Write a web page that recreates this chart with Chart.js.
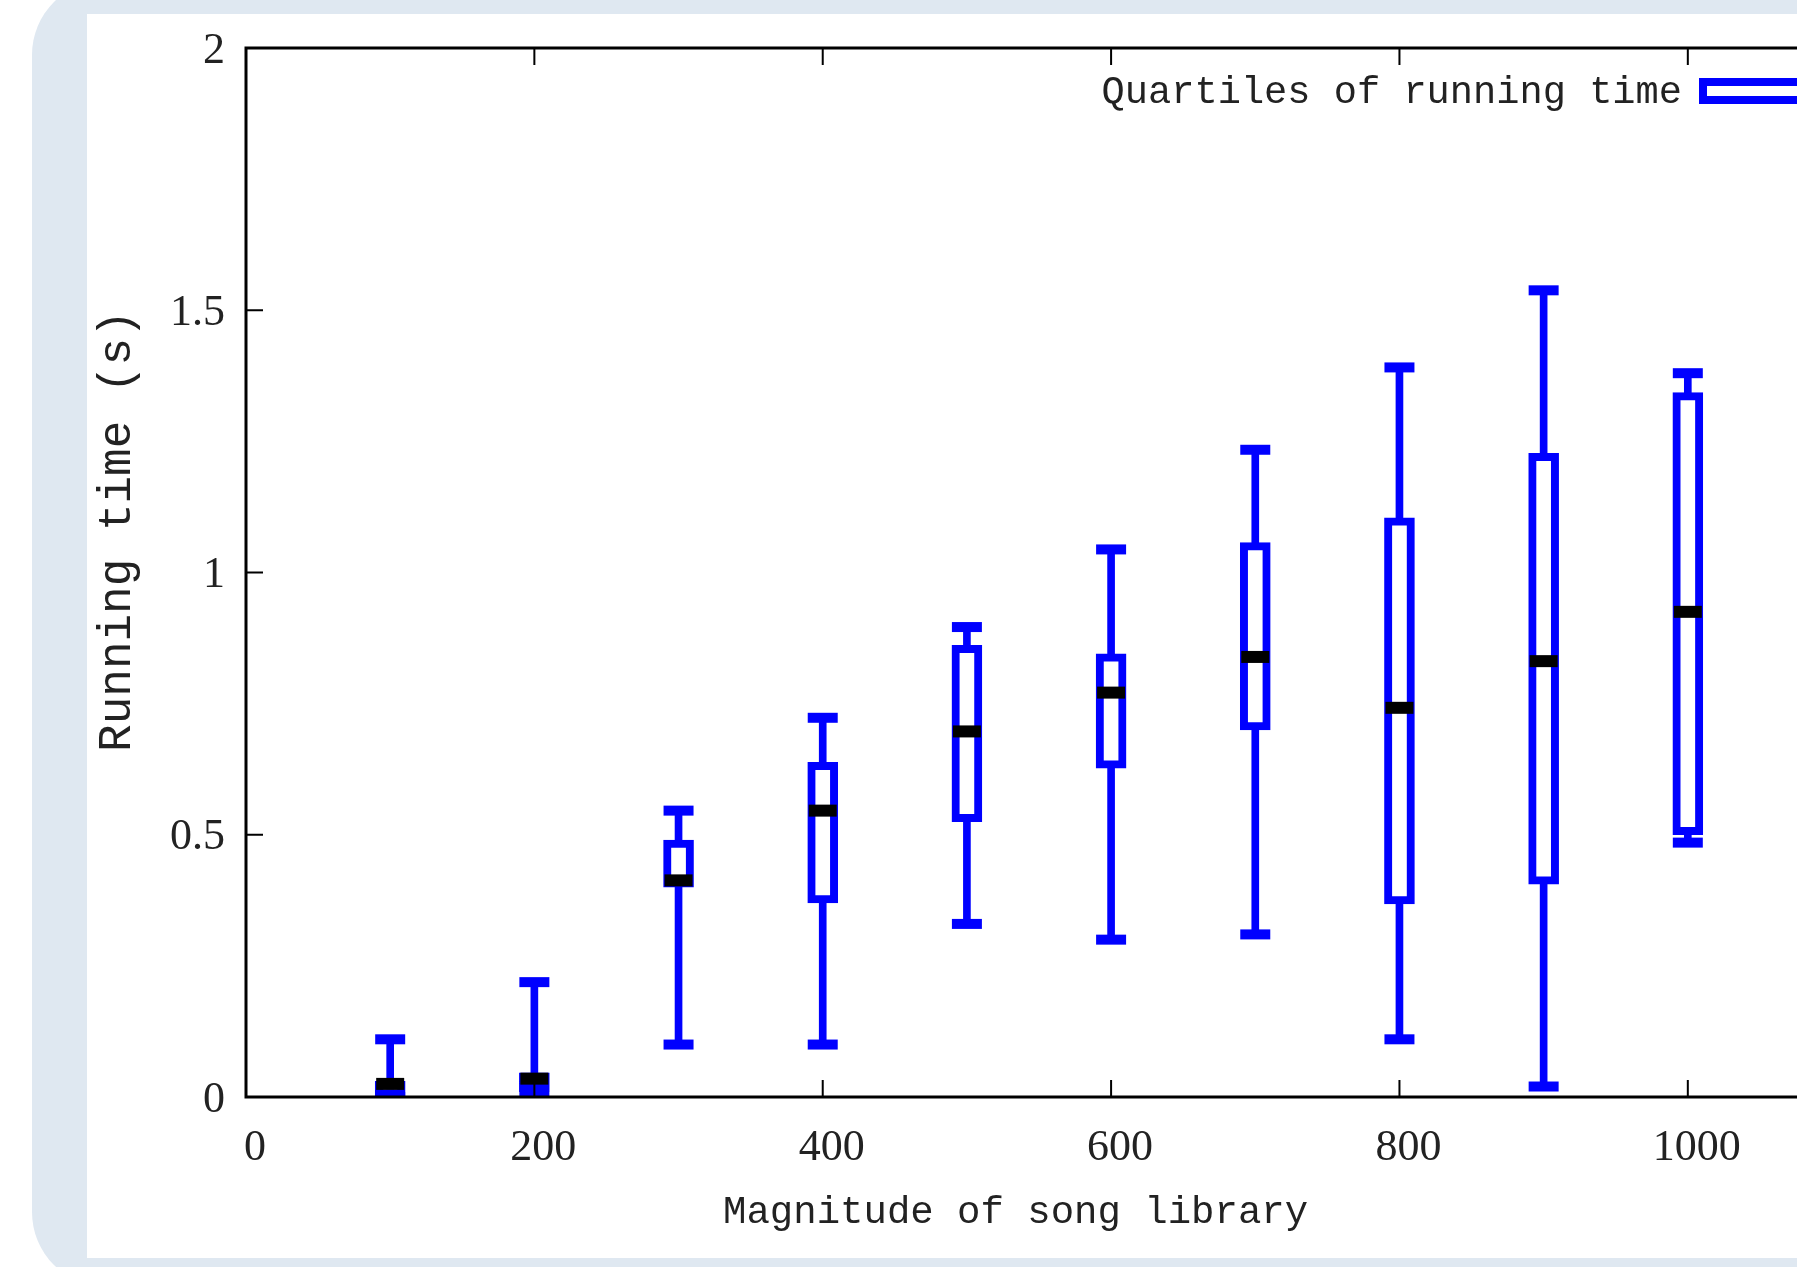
<!DOCTYPE html>
<html>
<head>
<meta charset="utf-8">
<title>Running time vs magnitude of song library</title>
<script src="https://cdn.jsdelivr.net/npm/chart.js@4.4.1/dist/chart.umd.min.js"></script>
<style>
  html, body { margin: 0; padding: 0; width: 1797px; height: 1267px; overflow: hidden; background: #fff; }
  #frame { position: absolute; left: 32px; top: -20px; width: 1900px; height: 1307px; background: #dfe8f1; border-radius: 75px; }
  #panel { position: absolute; left: 87px; top: 14px; width: 1800px; height: 1244px; background: #fff; }
  #wrap { position: absolute; left: 87px; top: 14px; width: 1771px; height: 1244px; }
</style>
</head>
<body>
<div id="frame"></div>
<div id="panel"></div>
<div id="wrap"><canvas id="boxChart"></canvas></div>
<script>
// song library sizes and running time quartiles (seconds)
const sizes   = [100, 200, 300, 400, 500, 600, 700, 800, 900, 1000];
const minTime = [0.00, 0.00, 0.10, 0.10, 0.33, 0.30, 0.31, 0.11, 0.02, 0.485];
const q1Time  = [0.00, 0.01, 0.40, 0.37, 0.525, 0.627, 0.70, 0.368, 0.406, 0.50];
const medTime = [0.025, 0.035, 0.413, 0.546, 0.697, 0.771, 0.839, 0.742, 0.831, 0.925];
const q3Time  = [0.03, 0.046, 0.49, 0.638, 0.861, 0.845, 1.057, 1.104, 1.227, 1.343];
const maxTime = [0.11, 0.219, 0.546, 0.723, 0.896, 1.044, 1.234, 1.391, 1.538, 1.38];

const xTitle = 'Magnitude of song library  ';
const yTitle = '   Running time (s)';
const seriesLabel = 'Quartiles of running time';

const blue = '#0000ff';
const textColor = '#222';
const tickFont = { family: 'Liberation Serif', size: 44 };
const noLines = 'rgba(0,0,0,0)';

// gnuplot style border with inward ticks + key in the top right corner
const gnuplotFrame = {
  id: 'gnuplotFrame',
  afterDatasetsDraw(chart) {
    const { ctx, chartArea: a, scales } = chart;
    ctx.save();
    ctx.strokeStyle = '#000';
    ctx.lineWidth = 3;
    ctx.strokeRect(a.left, a.top, a.right - a.left, a.bottom - a.top);

    ctx.lineWidth = 2;
    ctx.beginPath();
    scales.x.ticks.forEach(t => {
      const px = scales.x.getPixelForValue(t.value);
      ctx.moveTo(px, a.bottom); ctx.lineTo(px, a.bottom - 17);
      ctx.moveTo(px, a.top);    ctx.lineTo(px, a.top + 17);
    });
    scales.y.ticks.forEach(t => {
      const py = scales.y.getPixelForValue(t.value);
      ctx.moveTo(a.left, py);  ctx.lineTo(a.left + 17, py);
      ctx.moveTo(a.right, py); ctx.lineTo(a.right - 17, py);
    });
    ctx.stroke();

    // key
    const ds = chart.data.datasets.find(d => d.label === seriesLabel);
    const cy = a.top + 45;
    const boxLeft = a.right - 129;
    ctx.font = '38.7px "Liberation Mono"';
    ctx.fillStyle = textColor;
    ctx.textAlign = 'right';
    ctx.textBaseline = 'middle';
    ctx.fillText(ds.label, boxLeft - 21, cy);
    ctx.fillStyle = ds.backgroundColor;
    ctx.strokeStyle = ds.borderColor;
    ctx.lineWidth = ds.borderWidth;
    ctx.fillRect(boxLeft, cy - 11, 100, 18);
    ctx.strokeRect(boxLeft, cy - 11, 100, 18);
    ctx.restore();
  }
};

new Chart(document.getElementById('boxChart'), {
  type: 'bar',
  data: {
    datasets: [
      {
        type: 'scatter',
        label: 'Median',
        data: sizes.map((s, i) => ({ x: s, y: medTime[i] })),
        pointStyle: 'line',
        pointRadius: 14,
        pointBorderColor: '#000',
        pointBorderWidth: 12,
        borderColor: '#000',
        order: 0
      },
      {
        type: 'scatter',
        label: 'Whisker caps',
        data: sizes.map((s, i) => ({ x: s, y: minTime[i] }))
          .concat(sizes.map((s, i) => ({ x: s, y: maxTime[i] }))),
        pointStyle: 'line',
        pointRadius: 15,
        pointBorderColor: blue,
        pointBorderWidth: 10,
        borderColor: blue,
        order: 1
      },
      {
        label: seriesLabel,
        data: sizes.map((s, i) => ({ x: s, y: [q1Time[i], q3Time[i]] })),
        backgroundColor: '#fff',
        borderColor: blue,
        borderWidth: 8,
        borderSkipped: false,
        barThickness: 30,
        grouped: false,
        order: 2
      },
      {
        label: 'Range',
        data: sizes.map((s, i) => ({ x: s, y: [minTime[i], maxTime[i]] })),
        backgroundColor: blue,
        borderWidth: 0,
        barThickness: 7,
        grouped: false,
        order: 3
      }
    ]
  },
  options: {
    responsive: true,
    maintainAspectRatio: false,
    animation: false,
    events: [],
    layout: { padding: { left: 3, top: 34, right: 4, bottom: 22 } },
    plugins: {
      legend: { display: false },
      tooltip: { enabled: false }
    },
    scales: {
      x: {
        type: 'linear',
        min: 0,
        max: 1100,
        offset: false,
        grid: { display: false, drawTicks: false },
        border: { display: false },
        ticks: {
          stepSize: 200,
          includeBounds: false,
          padding: 25,
          labelOffset: 9,
          maxRotation: 0,
          color: textColor,
          font: tickFont,
          callback: v => String(v)
        },
        title: {
          display: true,
          text: xTitle,
          color: textColor,
          padding: 0,
          font: { family: 'Liberation Mono', size: 39 }
        },
        afterFit: scale => { scale.height = 139; }
      },
      y: {
        min: 0,
        max: 2,
        grid: { display: true, drawOnChartArea: false, drawTicks: true, tickLength: 21, color: noLines },
        border: { display: false },
        ticks: {
          stepSize: 0.5,
          padding: 0,
          labelOffset: 3,
          color: textColor,
          font: tickFont,
          callback: v => String(v)
        },
        title: {
          display: true,
          text: yTitle,
          color: textColor,
          padding: 0,
          font: { family: 'Liberation Mono', size: 46 }
        },
        afterFit: scale => { scale.width = 156; }
      }
    }
  },
  plugins: [gnuplotFrame]
});
</script>
</body>
</html>
